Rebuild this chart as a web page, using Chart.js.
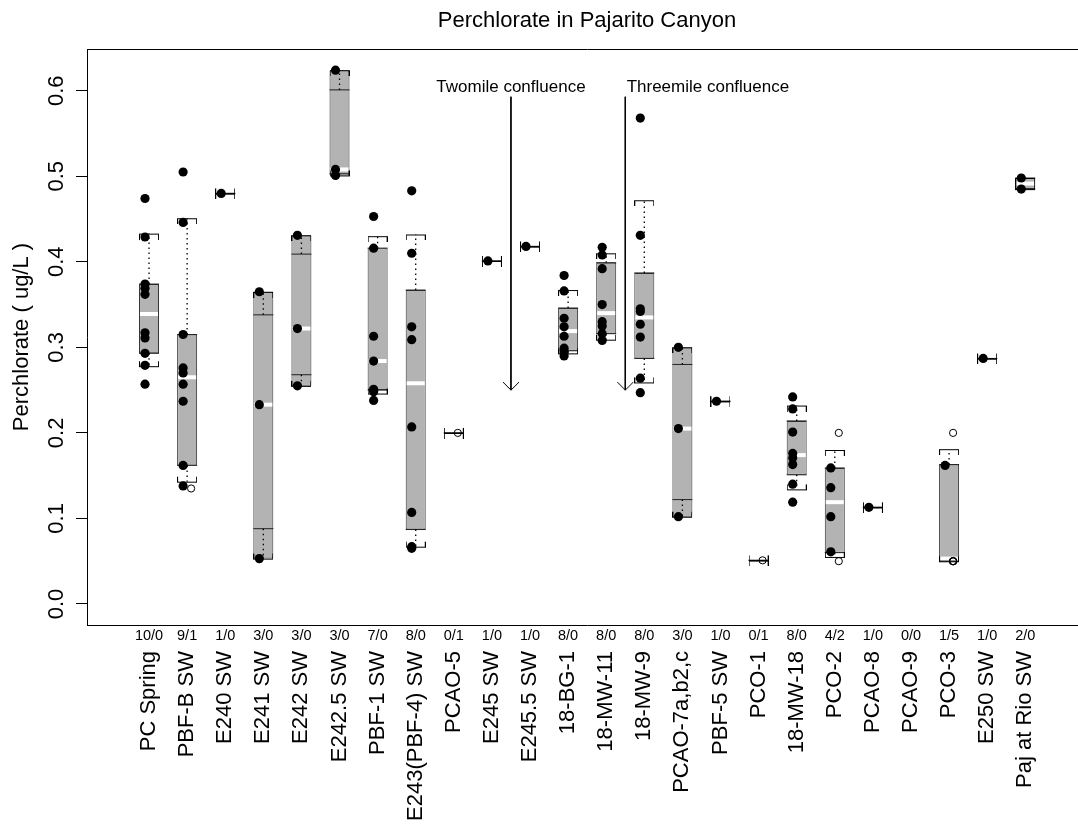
<!DOCTYPE html>
<html>
<head>
<meta charset="utf-8">
<script src="https://cdn.jsdelivr.net/npm/chart.js@4/dist/chart.umd.min.js"></script>
<style>
html,body{margin:0;padding:0;background:#fff;overflow:hidden;width:1078px;height:827px}
canvas{display:block}
</style>
</head>
<body>
<canvas id="c" width="1100" height="827" style="width:1100px;height:827px"></canvas>
<script>
// ---------------- data ----------------
const categories = ['PC Spring','PBF-B SW','E240 SW','E241 SW','E242 SW','E242.5 SW','PBF-1 SW','E243(PBF-4) SW','PCAO-5','E245 SW','E245.5 SW','18-BG-1','18-MW-11','18-MW-9','PCAO-7a,b2,c','PBF-5 SW','PCO-1','18-MW-18','PCO-2','PCAO-8','PCAO-9','PCO-3','E250 SW','Paj at Rio SW'];
const counts = ['10/0','9/1','1/0','3/0','3/0','3/0','7/0','8/0','0/1','1/0','1/0','8/0','8/0','8/0','3/0','1/0','0/1','8/0','4/2','1/0','0/0','1/5','1/0','2/0'];
const detects = [
  [0.474,0.429,0.374,0.369,0.362,0.317,0.311,0.293,0.279,0.257],
  [0.505,0.446,0.315,0.276,0.270,0.257,0.237,0.162,0.138],
  [0.480],
  [0.365,0.233,0.053],
  [0.431,0.322,0.255],
  [0.624,0.508,0.501],
  [0.453,0.416,0.313,0.284,0.251,0.248,0.238],
  [0.483,0.410,0.324,0.309,0.207,0.107,0.067,0.065],
  [],
  [0.401],
  [0.418],
  [0.384,0.366,0.334,0.324,0.313,0.299,0.294,0.290],
  [0.417,0.408,0.392,0.350,0.330,0.325,0.316,0.308],
  [0.568,0.431,0.345,0.342,0.327,0.312,0.264,0.247],
  [0.300,0.205,0.102],
  [0.237],
  [],
  [0.242,0.228,0.201,0.176,0.171,0.163,0.140,0.119],
  [0.159,0.136,0.102,0.061],
  [0.113],
  [],
  [0.162],
  [0.287],
  [0.498,0.485]
];
const nondetects = [
  [],[0.135],[],[],[],[],[],[],[0.200],[],[],[],[],[],[],[],[0.051],[],[0.200,0.050],[],[],[0.200,0.050,0.050,0.050,0.050],[],[]
];
const boxLow    = [0.293,0.162,0.480,0.053,0.255,0.501,0.250,0.087,0.200,0.401,0.418,0.296,0.316,0.287,0.102,0.237,0.051,0.151,0.060,0.113,null,0.050,0.287,0.485];
const boxHigh   = [0.374,0.315,0.480,0.365,0.431,0.624,0.416,0.367,0.200,0.401,0.418,0.346,0.399,0.387,0.300,0.237,0.051,0.214,0.159,0.113,null,0.163,0.287,0.498];
const hingeLow  = [0.293,0.162,0.480,0.088,0.268,0.503,0.250,0.087,0.200,0.401,0.418,0.296,0.316,0.287,0.122,0.237,0.051,0.151,0.060,0.113,null,0.050,0.287,0.485];
const hingeHigh = [0.374,0.315,0.480,0.338,0.409,0.601,0.416,0.367,0.200,0.401,0.418,0.346,0.399,0.387,0.280,0.237,0.051,0.214,0.159,0.113,null,0.163,0.287,0.498];
const medians   = [0.339,0.265,0.480,0.233,0.322,0.508,0.284,0.258,0.200,0.401,0.418,0.319,0.340,0.335,0.205,0.237,0.051,0.174,0.119,0.113,null,0.053,0.287,0.4915];
const whiskerLow  = [0.278,0.143,0.480,0.053,0.255,0.501,0.246,0.067,0.200,0.401,0.418,0.293,0.309,0.259,0.102,0.237,0.051,0.134,0.055,0.113,null,0.050,0.287,0.485];
const whiskerHigh = [0.433,0.451,0.480,0.365,0.431,0.624,0.430,0.432,0.200,0.401,0.418,0.367,0.410,0.472,0.300,0.237,0.051,0.232,0.180,0.113,null,0.181,0.287,0.498];
const yTicks = [0.0,0.1,0.2,0.3,0.4,0.5,0.6];
const confluenceLabels = ['Twomile confluence','Threemile confluence'];
const confluenceAt = [9.5, 12.5];
const confluenceTop = [0.593, 0.593];
const confluenceBottom = [0.25, 0.25];
const confluenceLabelAt = [9.5, 14.67];
const confluenceLabelY = [0.604, 0.604];

// ---------------- styling / layout ----------------
const FONT = '"Liberation Sans", Arial, Helvetica, sans-serif';
const X_MIN = -1.628, X_MAX = 24.62;
const Y_MIN = -0.0246, Y_MAX = 0.6488;
const SHIFT = 0.105;   // horizontal offset of detect / non-detect symbols (index units)
const idx = categories.map((_, i) => i);
const has = i => boxLow[i] !== null;

function capImage(ticksDown) {
  const c = document.createElement('canvas');
  c.width = 20; c.height = 12;
  const g = c.getContext('2d');
  g.fillStyle = '#000';
  g.fillRect(0, 6, 20, 1);
  if (ticksDown) { g.fillRect(0, 6, 1, 6); g.fillRect(19, 6, 1, 6); }
  else { g.fillRect(0, 1, 1, 6); g.fillRect(19, 1, 1, 6); }
  return c;
}
function arrowHead() {
  const c = document.createElement('canvas');
  c.width = 18; c.height = 18;
  const g = c.getContext('2d');
  g.strokeStyle = '#000'; g.lineWidth = 1;
  g.beginPath(); g.moveTo(1, 1); g.lineTo(9, 9); g.lineTo(17, 1); g.stroke();
  return c;
}

const whiskerSegs = [];
idx.filter(has).forEach(i => {
  if (whiskerHigh[i] > hingeHigh[i]) whiskerSegs.push({x:i,y:hingeHigh[i]},{x:i,y:whiskerHigh[i]},{x:i,y:null});
  if (whiskerLow[i] < hingeLow[i]) whiskerSegs.push({x:i,y:hingeLow[i]},{x:i,y:whiskerLow[i]},{x:i,y:null});
});
const arrowSegs = [];
confluenceAt.forEach((x, k) => arrowSegs.push({x, y: confluenceTop[k]}, {x, y: confluenceBottom[k]}, {x, y: null}));

const pt = (style, radius, fill, stroke, bw) => ({
  pointStyle: style, pointRadius: radius, pointHoverRadius: radius,
  pointBackgroundColor: fill, pointBorderColor: stroke, pointBorderWidth: bw,
  backgroundColor: fill, borderColor: stroke, showLine: false
});

const datasets = [
  { type:'bar', data: idx.filter(has).map(i => ({x:i, y:[boxLow[i], boxHigh[i]]})),
    backgroundColor:'#b3b3b3', borderColor:'#333', borderWidth:1, borderSkipped:false,
    barThickness:20, inflateAmount:0, order:10 },
  Object.assign({ type:'scatter', data: idx.filter(has).map(i => ({x:i, y:medians[i]})), order:9 },
    pt('line', 9, '#fff', '#fff', 4)),
  Object.assign({ type:'scatter', data: idx.filter(has).flatMap(i => [{x:i,y:hingeLow[i]},{x:i,y:hingeHigh[i]}]), order:8 },
    pt('line', 10, '#222', '#222', 1)),
  { type:'line', data: whiskerSegs, borderColor:'#000', borderWidth:1.3, borderDash:[1.5,3.5],
    pointRadius:0, spanGaps:false, fill:false, order:7 },
  Object.assign({ type:'scatter', data: idx.filter(has).map(i => ({x:i, y:whiskerHigh[i]})), order:6 },
    pt(capImage(true), 10, '#000', '#000', 0)),
  Object.assign({ type:'scatter', data: idx.filter(has).map(i => ({x:i, y:whiskerLow[i]})), order:6 },
    pt(capImage(false), 10, '#000', '#000', 0)),
  { type:'line', data: arrowSegs, borderColor:'#000', borderWidth:1, pointRadius:0, spanGaps:false, fill:false, order:5 },
  Object.assign({ type:'scatter', data: confluenceAt.map((x, k) => ({x, y: confluenceBottom[k]})), order:5 },
    pt(arrowHead(), 9, '#000', '#000', 0)),
  Object.assign({ type:'scatter', data: idx.flatMap(i => detects[i].map(v => ({x:i - SHIFT, y:v}))), order:2 },
    pt('circle', 4.6, '#000', '#000', 0)),
  Object.assign({ type:'scatter', data: idx.flatMap(i => nondetects[i].map(v => ({x:i + SHIFT, y:v}))), order:1 },
    pt('circle', 3.6, 'rgba(0,0,0,0)', '#000', 1))
];

const annotate = {
  id: 'annotate',
  afterDatasetsDraw(chart) {
    const {ctx, scales: {x, y}} = chart;
    ctx.save();
    ctx.font = '17px ' + FONT;
    ctx.fillStyle = '#000';
    ctx.textAlign = 'center';
    ctx.textBaseline = 'middle';
    confluenceLabels.forEach((t, k) => {
      ctx.fillText(t, x.getPixelForValue(confluenceLabelAt[k]), y.getPixelForValue(confluenceLabelY[k]));
    });
    ctx.restore();
  }
};

const catTicks = s => { s.ticks = idx.map(i => ({value: i})); };

new Chart(document.getElementById('c'), {
  type: 'scatter',
  data: { datasets },
  plugins: [annotate],
  options: {
    responsive: false,
    animation: false,
    devicePixelRatio: 1,
    events: [],
    layout: { padding: 0 },
    plugins: { legend: { display:false }, tooltip: { enabled:false }, title: { display:false } },
    scales: {
      x: {
        type:'linear', position:'bottom', weight:0, min:X_MIN, max:X_MAX, bounds:'data', offset:false,
        grid:{ display:false, drawTicks:false, tickLength:0 }, border:{ display:true, color:'#000', width:1 },
        afterBuildTicks: catTicks,
        ticks:{ autoSkip:false, minRotation:0, maxRotation:0, padding:2, color:'#000',
                font:{ family:FONT, size:14.5 }, callback: v => counts[v] ?? '' },
        afterFit: s => { s.height = 20; }
      },
      xn: {
        type:'linear', position:'bottom', weight:1, min:X_MIN, max:X_MAX, bounds:'data', offset:false,
        grid:{ display:false, drawTicks:false, tickLength:0 }, border:{ display:false },
        afterBuildTicks: catTicks,
        ticks:{ autoSkip:false, minRotation:90, maxRotation:90, padding:6, color:'#000',
                font:{ family:FONT, size:22 }, callback: v => categories[v] ?? '' },
        afterFit: s => { s.height = 182; }
      },
      xt: {
        type:'linear', position:'top', min:X_MIN, max:X_MAX, bounds:'data', offset:false,
        grid:{ display:false, drawTicks:false, tickLength:0 }, border:{ display:true, color:'#000', width:1 },
        ticks:{ display:false },
        title:{ display:true, text:'Perchlorate in Pajarito Canyon', color:'#000',
                font:{ family:FONT, size:22 }, padding:{ top:8, bottom:0 } },
        afterFit: s => { s.height = 49; }
      },
      y: {
        type:'linear', position:'left', min:Y_MIN, max:Y_MAX, bounds:'data',
        afterBuildTicks: s => { s.ticks = yTicks.map(v => ({value: v})); },
        grid:{ display:true, drawOnChartArea:false, drawTicks:true, tickLength:11, color:'#000', lineWidth:1 },
        border:{ display:true, color:'#000', width:1 },
        ticks:{ minRotation:90, maxRotation:90, crossAlign:'center', padding:4, color:'#000',
                font:{ family:FONT, size:22 }, callback: v => v.toFixed(1) },
        title:{ display:true, text:'Perchlorate ( ug/L )', color:'#000',
                font:{ family:FONT, size:22 }, padding:{ top:9, bottom:0 } },
        afterFit: s => { s.width = 87; }
      }
    }
  }
});
</script>
</body>
</html>
